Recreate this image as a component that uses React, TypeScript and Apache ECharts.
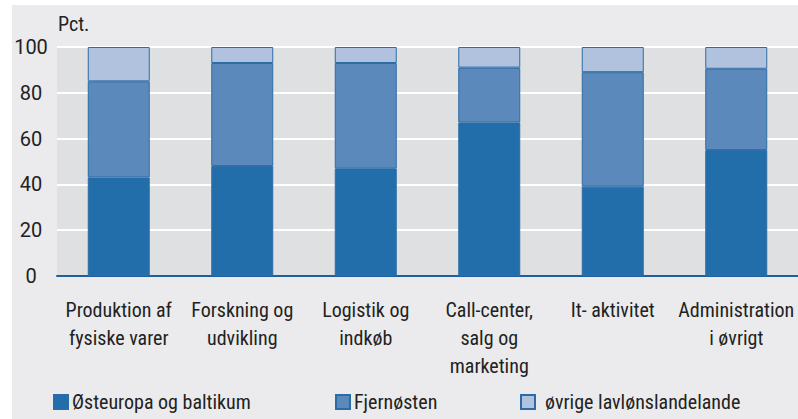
import React, { useEffect, useRef } from "react";
import * as echarts from "echarts";

const categories = [
  "Produktion af\nfysiske varer",
  "Forskning og\nudvikling",
  "Logistik og\nindkøb",
  "Call-center,\nsalg og\nmarketing",
  "It- aktivitet",
  "Administration\ni øvrigt",
];
const seriesNames = ["Østeuropa og baltikum", "Fjernøsten", "øvrige lavlønslandelande"];
const oesteuropa = [43, 48, 47, 67, 39, 55];
const fjernoesten = [42, 45, 46, 24, 50, 35.5];
const oevrige = [15, 7, 7, 9, 11, 9.5];
const yTicks = [0, 20, 40, 60, 80, 100];

const FONT = "'Roboto Condensed', sans-serif";
const colors = ["#226eab", "#5b89bc", "#b1c2de"];

export default function App() {
  const ref = useRef<HTMLDivElement>(null);
  useEffect(() => {
    if (!ref.current) return;
    const chart = echarts.init(ref.current, null, { renderer: "svg" });
    const data = [oesteuropa, fjernoesten, oevrige];
    const legendLefts = [53, 335, 520];
    const legendTextPad = [-1, -1, 5];
    chart.setOption({
      animation: false,
      backgroundColor: "#ffffff",
      textStyle: { fontFamily: FONT },
      graphic: [
        {
          type: "rect",
          z: -10,
          silent: true,
          shape: { x: 12, y: 5, width: 786, height: 414 },
          style: { fill: "#ebebed" },
        },
        {
          type: "text",
          left: 58,
          top: 14,
          style: { text: "Pct.", fontSize: 20, fontFamily: FONT, fill: "#222" },
        },
      ],
      legend: seriesNames.map((n, i) => ({
        data: [n],
        left: legendLefts[i],
        top: 392,
        itemWidth: 14,
        itemHeight: 14,
        itemGap: 5,
        icon: "rect",
        textStyle: { fontSize: 20, fontFamily: FONT, color: "#222", padding: [0, 0, 0, legendTextPad[i]] },
        padding: 0,
      })),
      grid: {
        left: 57,
        top: 47,
        width: 743,
        height: 229,
        show: true,
        backgroundColor: "#dfe0e2",
        borderWidth: 0,
      },
      xAxis: {
        type: "category",
        data: categories,
        axisLine: { show: true, lineStyle: { color: "#1f5f9e", width: 2 } },
        axisTick: { show: false },
        axisLabel: {
          interval: 0,
          fontSize: 20,
          lineHeight: 28,
          margin: 20,
          color: "#222",
          fontFamily: FONT,
          align: "center",
        },
      },
      yAxis: {
        type: "value",
        min: yTicks[0],
        max: yTicks[yTicks.length - 1],
        interval: 20,
        axisLine: { show: false },
        axisTick: { show: false },
        axisLabel: {
          fontSize: 20,
          color: "#222",
          align: "center",
          margin: 26,
          fontFamily: "Roboto, sans-serif",
        },
        splitLine: { lineStyle: { color: "#ffffff", width: 2 } },
      },
      series: seriesNames.map((n, i) => ({
        name: n,
        type: "bar",
        stack: "total",
        barWidth: 62,
        data: data[i],
        itemStyle: { color: colors[i], borderColor: "#2c6ca6", borderWidth: 1 },
      })),
    });
    return () => chart.dispose();
  }, []);
  return (
    <div
      ref={ref}
      style={{ position: "fixed", left: 0, top: 0, width: 798, height: 419 }}
    />
  );
}
